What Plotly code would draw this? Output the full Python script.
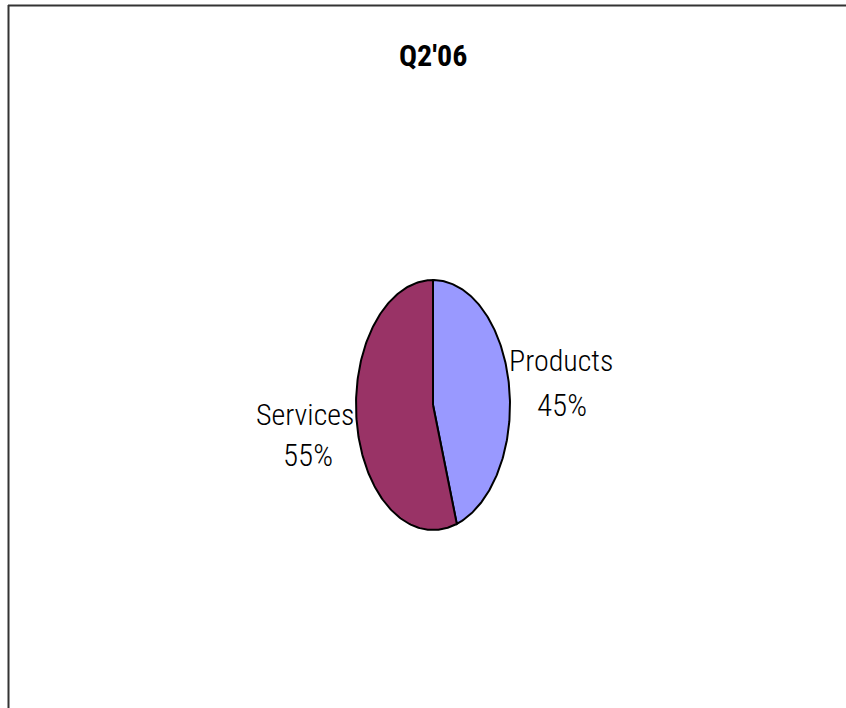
import numpy as np
import plotly.graph_objects as go

# ---- data ----
title = "Q2'06"
categories = ["Products", "Services"]
values = [45, 55]
colors = ["#9999FF", "#993366"]

# ---- layout geometry (pixels) ----
W, H = 846, 708
cx, cy = 433, 405      # ellipse centre
rx, ry = 77, 125       # semi-axes
FONT = "Roboto Condensed, Arial Narrow, sans-serif"

fig = go.Figure()
total = sum(values)
start = 0.0
# (name line centre, percent line centre)
label_pos = {"Products": ((561.5, 360), (562, 405)),
             "Services": ((305, 414), (307.5, 455))}
for cat, v, col in zip(categories, values, colors):
    frac = v / total
    t = np.linspace(start, start + frac, 200) * 2 * np.pi
    xs = np.concatenate([[cx], cx + rx * np.sin(t), [cx]])
    ys = np.concatenate([[cy], cy - ry * np.cos(t), [cy]])
    fig.add_trace(go.Scatter(x=xs, y=ys, mode="lines", fill="toself",
                             fillcolor=col, line=dict(color="black", width=2),
                             hoverinfo="skip", showlegend=False))
    (nx, ny), (px, py) = label_pos[cat]
    fig.add_annotation(x=nx, y=ny, xref="x", yref="y", showarrow=False,
                       text=cat, font=dict(family=FONT, size=30, weight=300, color="black"))
    fig.add_annotation(x=px, y=py, xref="x", yref="y", showarrow=False,
                       text=f"{round(frac*100)}%",
                       font=dict(family=FONT, size=31, weight=300, color="black"))
    start += frac

fig.add_annotation(x=432.5, y=55, xref="x", yref="y", showarrow=False,
                   text=title,
                   font=dict(family=FONT, size=30, weight="bold", color="black"))

# frame (top and left edges visible)
fig.add_shape(type="line", xref="x", yref="y", x0=8, y0=5.5, x1=W + 5, y1=5.5,
              line=dict(color="#333333", width=2))
fig.add_shape(type="line", xref="x", yref="y", x0=8.5, y0=5, x1=8.5, y1=H + 5,
              line=dict(color="#333333", width=2))

fig.update_layout(
    width=W, height=H,
    margin=dict(l=0, r=0, t=0, b=0),
    paper_bgcolor="white", plot_bgcolor="white",
    xaxis=dict(range=[0, W], visible=False, fixedrange=True),
    yaxis=dict(range=[H, 0], visible=False, fixedrange=True),
)
fig.write_html("out.html")
